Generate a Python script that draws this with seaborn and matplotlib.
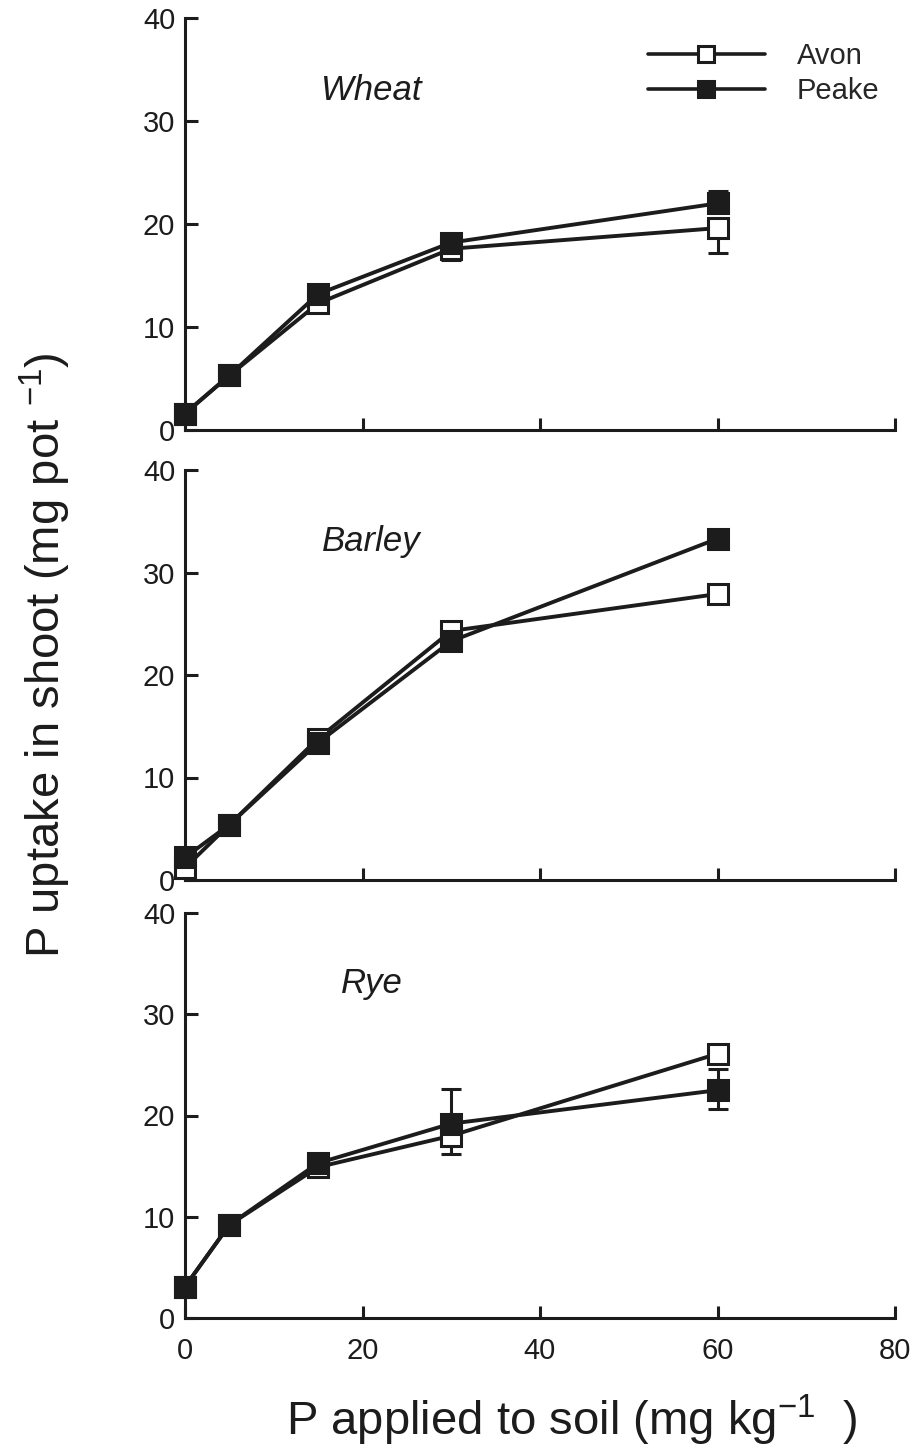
import matplotlib
matplotlib.use("Agg")
import matplotlib.pyplot as plt
import seaborn as sns
import pandas as pd
import numpy as np
from matplotlib.lines import Line2D

# ---- data ----
p_applied = [0, 5, 15, 30, 60]
crops = ["Wheat", "Barley", "Rye"]

wheat_avon = [1.6, 5.3, 12.3, 17.6, 19.6]
wheat_peake = [1.6, 5.3, 13.2, 18.2, 22.0]
barley_avon = [1.2, 5.4, 13.8, 24.3, 27.9]
barley_peake = [2.2, 5.4, 13.4, 23.3, 33.3]
rye_avon = [3.1, 9.2, 14.9, 18.0, 26.1]
rye_peake = [3.1, 9.2, 15.3, 19.2, 22.5]

# error bars (lower, upper)
wheat_avon_lo = [0, 0, 0, 1.1, 2.4]
wheat_avon_up = [0, 0, 0, 0, 0]
wheat_peake_lo = [0, 0, 0, 0, 0]
wheat_peake_up = [0, 0, 0, 0, 1.2]
barley_avon_lo = [0, 0, 0, 0, 0]
barley_avon_up = [0, 0, 0, 0, 0]
barley_peake_lo = [0, 0, 0, 0, 0.4]
barley_peake_up = [0, 0, 0, 0, 0.4]
rye_avon_lo = [0, 0, 0, 1.8, 0]
rye_avon_up = [0, 0, 0, 0, 0]
rye_peake_lo = [0, 0, 0, 2.2, 1.9]
rye_peake_up = [0, 0, 0, 3.4, 2.1]

x_ticks = [0, 20, 40, 60, 80]
y_ticks = [0, 10, 20, 30, 40]

series = {
    "Wheat": (wheat_avon, wheat_peake, (wheat_avon_lo, wheat_avon_up), (wheat_peake_lo, wheat_peake_up)),
    "Barley": (barley_avon, barley_peake, (barley_avon_lo, barley_avon_up), (barley_peake_lo, barley_peake_up)),
    "Rye": (rye_avon, rye_peake, (rye_avon_lo, rye_avon_up), (rye_peake_lo, rye_peake_up)),
}

# ---- style ----
sns.set_style("white")
plt.rcParams["font.family"] = ["Liberation Sans", "DejaVu Sans"]
plt.rcParams["mathtext.fontset"] = "custom"
plt.rcParams["mathtext.rm"] = "Liberation Sans"
plt.rcParams["mathtext.it"] = "Liberation Sans:italic"

ink = "#1c1c1c"
W, H = 917, 1454
fig = plt.figure(figsize=(W / 100, H / 100), dpi=100)

panel_px = [(18, 430), (470, 880), (913, 1318)]
left_px, right_px = 185, 895

for i, crop in enumerate(crops):
    top, bot = panel_px[i]
    ax = fig.add_axes([left_px / W, 1 - bot / H, (right_px - left_px) / W, (bot - top) / H])
    avon, peake, avon_err, peake_err = series[crop]
    df = pd.DataFrame({"P": p_applied, "Avon": avon, "Peake": peake})

    for name, vals, err, fc in [("Avon", avon, avon_err, "white"), ("Peake", peake, peake_err, ink)]:
        lo = np.array(err[0]); up = np.array(err[1])
        mask = (lo + up) > 0
        if mask.any():
            xs = np.array(p_applied)[mask]; ys = np.array(vals)[mask]
            ax.errorbar(xs, ys, yerr=[lo[mask], up[mask]], fmt="none", ecolor=ink,
                        elinewidth=2.2, capsize=7, capthick=2.2, zorder=2, clip_on=False)
        sns.lineplot(data=df, x="P", y=name, ax=ax, color=ink, linewidth=2.8,
                     marker="s", markersize=14, markerfacecolor=fc, markeredgecolor=ink,
                     markeredgewidth=2.2, clip_on=False, zorder=3)

    ax.set_xlim(0, 80)
    ax.set_ylim(0, 40)
    ax.set_xticks(x_ticks)
    ax.set_yticks(y_ticks)
    ax.set_xlabel("")
    ax.set_ylabel("")
    for s in ["top", "right"]:
        ax.spines[s].set_visible(False)
    for s in ["left", "bottom"]:
        ax.spines[s].set_linewidth(2.2)
        ax.spines[s].set_color(ink)
    ax.tick_params(axis="both", direction="in", length=9, width=2.2, color=ink,
                   labelsize=21, labelcolor=ink, bottom=True, left=True)
    ax.tick_params(axis="y", pad=7)
    ax.tick_params(axis="x", pad=14)
    if i < 2:
        ax.set_xticklabels([])
    ax.text(21, 33, crop, fontsize=25, style="italic", ha="center", va="center", color=ink)

    if i == 0:
        handles = [
            Line2D([], [], color=ink, lw=2.6, marker="s", markersize=12,
                   markerfacecolor="white", markeredgecolor=ink, markeredgewidth=2.2),
            Line2D([], [], color=ink, lw=2.6, marker="s", markersize=12,
                   markerfacecolor=ink, markeredgecolor=ink, markeredgewidth=2.2),
        ]
        ax.legend(handles, ["Avon", "Peake"], loc="upper left",
                  bbox_to_anchor=(648 / W, 1 - 42 / H), bbox_transform=fig.transFigure,
                  frameon=False, fontsize=21, handlelength=4.0, handletextpad=1.1,
                  labelspacing=0.25, borderpad=0, borderaxespad=0)

fig.text(45 / W, 1 - 655 / H, r"P uptake in shoot (mg pot $^{-1}$)", rotation=90,
         fontsize=34, ha="center", va="center", color=ink)
fig.text(572 / W, 1 - 1420 / H, r"P applied to soil (mg kg$^{-1}$  )",
         fontsize=34, ha="center", va="center", color=ink)

fig.savefig("out.png", dpi=100)
